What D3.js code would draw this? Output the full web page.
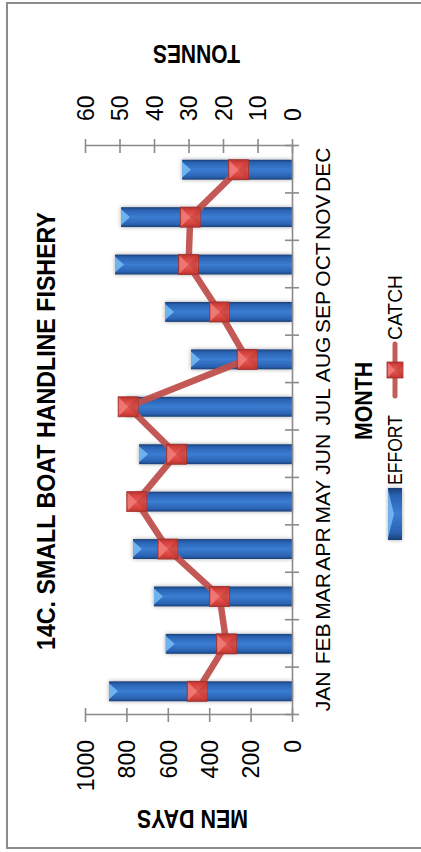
<!DOCTYPE html>
<html>
<head>
<meta charset="utf-8">
<script src="https://cdn.jsdelivr.net/npm/d3@7/dist/d3.min.js"></script>
<style>
  html, body { margin: 0; padding: 0; background: #fff; }
  svg { display: block; }
  text { font-family: "Liberation Sans", Arial, sans-serif; fill: #000; }
</style>
</head>
<body>
<svg id="chart" width="421" height="852"></svg>
<script>
// ---- data ----
const months = ["JAN","FEB","MAR","APR","MAY","JUN","JUL","AUG","SEP","OCT","NOV","DEC"];
const effort = [884, 610, 667, 768, 750, 739, 800, 488, 613, 855, 826, 531];   // men days
const catchT = [27.5, 19, 21, 36, 45, 33.5, 47.5, 13, 21, 30, 29.5, 15.5];      // tonnes
const leftTicks = [0, 200, 400, 600, 800, 1000];
const rightTicks = [0, 10, 20, 30, 40, 50, 60];
const titleText = "14C. SMALL BOAT HANDLINE FISHERY";

// ---- chart drawn in its own (unrotated) frame, then rotated -90deg ----
const W = 852, H = 421;
const svg = d3.select("#chart");
const defs = svg.append("defs");

const barGrad = defs.append("linearGradient").attr("id", "barGrad")
  .attr("x1", 0).attr("y1", 0).attr("x2", 1).attr("y2", 0);
[[0, "#1b3f76"], [0.14, "#2a62b2"], [0.5, "#3b7dd2"], [0.86, "#2a62b2"], [1, "#1b3f76"]]
  .forEach(([o, c]) => barGrad.append("stop").attr("offset", o).attr("stop-color", c));

const mkGrad = defs.append("linearGradient").attr("id", "mkGrad")
  .attr("x1", 0).attr("y1", 0).attr("x2", 1).attr("y2", 0);
[[0, "#b8342f"], [0.2, "#d9443f"], [0.5, "#e55c57"], [0.8, "#d9443f"], [1, "#b8342f"]]
  .forEach(([o, c]) => mkGrad.append("stop").attr("offset", o).attr("stop-color", c));

const shadow = defs.append("filter").attr("id", "shadow")
  .attr("x", "-20%").attr("y", "-20%").attr("width", "140%").attr("height", "140%");
shadow.append("feDropShadow").attr("dx", 0).attr("dy", 0)
  .attr("stdDeviation", 2).attr("flood-color", "#000").attr("flood-opacity", 0.35);

svg.append("rect").attr("width", 421).attr("height", 852).attr("fill", "#fff");

const g = svg.append("g").attr("transform", `translate(0,${W}) rotate(-90)`);

// border
g.append("rect").attr("x", 4).attr("y", 7).attr("width", 845).attr("height", 420)
  .attr("fill", "#fff").attr("stroke", "#8c8c8c").attr("stroke-width", 2);

// scales
const plotL = 137, plotR = 706, plotT = 85, plotB = 292;
const x = d3.scaleBand().domain(months).range([plotL, plotR]).paddingInner(0.58).paddingOuter(0.29);
const xIdx = d3.scaleLinear().domain([0, months.length]).range([plotL, plotR]);
const yL = d3.scaleLinear().domain([0, 1000]).range([plotB, plotT]);
const yR = d3.scaleLinear().domain([0, 60]).range([plotB, plotT]);

const axisColor = "#8a8a8a";
function styleAxis(sel) {
  sel.attr("font-family", null).attr("font-size", null);
  sel.select(".domain").attr("stroke", axisColor).attr("stroke-width", 1.6);
  sel.selectAll(".tick line").attr("stroke", axisColor).attr("stroke-width", 1.6);
}

// left axis (men days)
const axL = g.append("g").attr("transform", `translate(${plotL},0)`)
  .call(d3.axisLeft(yL).tickValues(leftTicks).tickFormat(d3.format("d")).tickSize(7).tickSizeOuter(0));
styleAxis(axL);
axL.selectAll(".tick line").attr("x1", 7);
axL.selectAll(".tick text").attr("x", -25).attr("dy", "0.36em")
  .style("font-size", "23px").style("font-family", '"Liberation Sans", Arial, sans-serif');

// right axis (tonnes)
const axR = g.append("g").attr("transform", `translate(${plotR},0)`)
  .call(d3.axisRight(yR).tickValues(rightTicks).tickFormat(d3.format("d")).tickSize(7).tickSizeOuter(0));
styleAxis(axR);
axR.selectAll(".tick line").attr("x1", -7);
axR.selectAll(".tick text").attr("x", 25).attr("dy", "0.36em")
  .style("font-size", "23px").style("font-family", '"Liberation Sans", Arial, sans-serif');

// bars
const barG = g.append("g");
months.forEach((m, i) => {
  const bx = x(m), bw = x.bandwidth(), top = yL(effort[i]);
  const bg = barG.append("g").attr("filter", "url(#shadow)");
  bg.append("rect").attr("x", bx).attr("y", top).attr("width", bw).attr("height", plotB - top)
    .attr("fill", "url(#barGrad)");
  bg.append("path")
    .attr("d", `M${bx + 2},${top} L${bx + bw - 2},${top} L${bx + bw / 2},${top + 9} Z`)
    .attr("fill", "#74b8f2").attr("opacity", 0.9);
});

// category axis (baseline with boundary cross ticks)
const axB = g.append("g").attr("transform", `translate(0,${plotB})`)
  .call(d3.axisBottom(xIdx).tickValues(d3.range(0, months.length + 1)).tickFormat("").tickSize(7).tickSizeOuter(0));
styleAxis(axB);
axB.selectAll(".tick line").attr("y1", -7);

const axM = g.append("g").attr("transform", `translate(0,${plotB})`)
  .call(d3.axisBottom(x).tickSize(0));
axM.attr("font-family", null).attr("font-size", null);
axM.select(".domain").remove();
axM.selectAll(".tick text").attr("y", 23).attr("dy", "0.72em")
  .style("font-size", "21px").style("font-family", '"Liberation Sans", Arial, sans-serif');

// catch line
const line = d3.line().x((d, i) => x(months[i]) + x.bandwidth() / 2).y(d => yR(d));
g.append("path").datum(catchT).attr("d", line)
  .attr("fill", "none").attr("stroke", "#c0504d").attr("stroke-width", 6.5)
  .attr("stroke-linejoin", "round").attr("opacity", 0.95);

// markers
function marker(sel, cx, cy, s) {
  const h = s / 2;
  const mg = sel.append("g");
  mg.append("rect").attr("x", cx - h).attr("y", cy - h).attr("width", s).attr("height", s)
    .attr("fill", "url(#mkGrad)").attr("stroke", "#a3302c").attr("stroke-width", 0.8);
  mg.append("path").attr("d", `M${cx - h + 1},${cy - h + 1} L${cx + h - 1},${cy - h + 1} L${cx},${cy} Z`)
    .attr("fill", "#f07d79").attr("opacity", 0.85);
  mg.append("path").attr("d", `M${cx - h + 1},${cy + h - 1} L${cx + h - 1},${cy + h - 1} L${cx},${cy} Z`)
    .attr("fill", "#a8302c").attr("opacity", 0.35);
}
const mkG = g.append("g");
catchT.forEach((v, i) => marker(mkG, x(months[i]) + x.bandwidth() / 2, yR(v), 20));

// titles
g.append("text").attr("x", 421).attr("y", 55).attr("text-anchor", "middle")
  .attr("font-weight", "bold").attr("font-size", 25)
  .attr("textLength", 438).attr("lengthAdjust", "spacingAndGlyphs").text(titleText);

g.append("text").attr("transform", "translate(42,192.5) rotate(-90)").attr("text-anchor", "middle")
  .attr("font-weight", "bold").attr("font-size", 25)
  .attr("textLength", 111).attr("lengthAdjust", "spacingAndGlyphs").text("MEN DAYS");

g.append("text").attr("transform", "translate(807,196.5) rotate(-90)").attr("text-anchor", "middle")
  .attr("font-weight", "bold").attr("font-size", 25)
  .attr("textLength", 87).attr("lengthAdjust", "spacingAndGlyphs").text("TONNES");

g.append("text").attr("x", 451).attr("y", 372).attr("text-anchor", "middle")
  .attr("font-weight", "bold").attr("font-size", 23)
  .attr("textLength", 78).attr("lengthAdjust", "spacingAndGlyphs").text("MONTH");

// legend
const lg = g.append("g");
lg.append("rect").attr("x", 312).attr("y", 388).attr("width", 52).attr("height", 14)
  .attr("fill", "url(#barGrad)").attr("filter", "url(#shadow)");
lg.append("path").attr("d", "M314,388 L362,388 L338,394 Z").attr("fill", "#74b8f2").attr("opacity", 0.9);
lg.append("text").attr("x", 367).attr("y", 402).attr("font-size", 20)
  .attr("textLength", 70).attr("lengthAdjust", "spacingAndGlyphs").text("EFFORT");

lg.append("line").attr("x1", 456).attr("x2", 508).attr("y1", 395).attr("y2", 395)
  .attr("stroke", "#c0504d").attr("stroke-width", 5).attr("stroke-linecap", "round").attr("opacity", 0.92);
marker(lg, 482, 395, 16);
lg.append("text").attr("x", 512).attr("y", 402).attr("font-size", 20)
  .attr("textLength", 65).attr("lengthAdjust", "spacingAndGlyphs").text("CATCH");
</script>
</body>
</html>
